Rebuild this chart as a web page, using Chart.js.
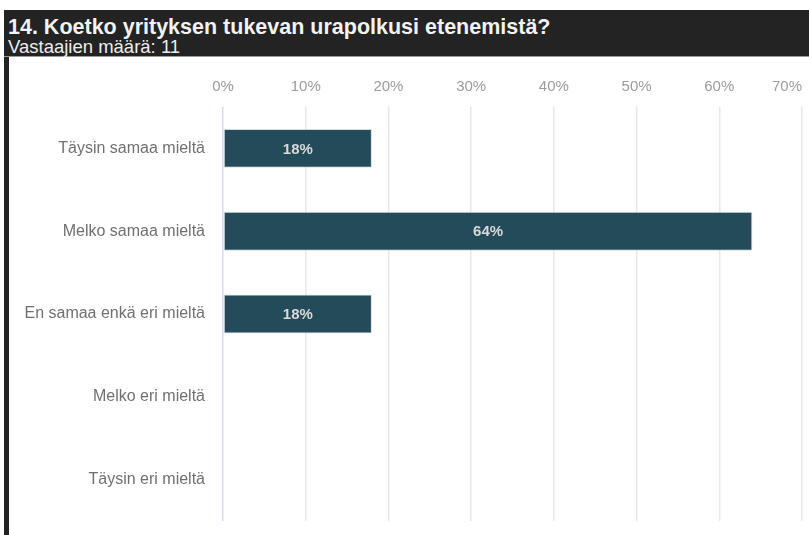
<!DOCTYPE html>
<html lang="fi">
<head>
    <meta charset="UTF-8">
    <title>14. Koetko yrityksen tukevan urapolkusi etenemistä?</title>
    <script src="https://cdn.jsdelivr.net/npm/chart.js"></script>
    <style>
        html, body { margin: 0; padding: 0; background: #FFFFFF; }
        body { width: 809px; height: 535px; position: relative; overflow: hidden; font-family: 'Liberation Sans', Arial, sans-serif; }
        .survey-header {
            position: absolute; left: 4px; top: 10px; width: 805px; height: 47px;
            background: #232323; border-bottom: 1px solid #9a9a9a; box-sizing: border-box;
        }
        .survey-title {
            position: absolute; left: 4px; top: 5px; color: #F2F2F2;
            font-weight: bold; font-size: 21.5px; line-height: 25px; white-space: nowrap;
        }
        .survey-sub {
            position: absolute; left: 4px; top: 27px; color: #EDEDED;
            font-size: 18.5px; line-height: 20px; white-space: nowrap;
        }
        .chart-frame {
            position: absolute; left: 4px; top: 57px; width: 805px; height: 478px;
            border-left: 5px solid #232323; box-sizing: border-box;
        }
        .chart-box { position: absolute; left: 0; top: 1px; width: 800px; height: 477px; }
    </style>
</head>
<body>
    <div class="survey-header">
        <div class="survey-title">14. Koetko yrityksen tukevan urapolkusi etenemistä?</div>
        <div class="survey-sub">Vastaajien määrä: 11</div>
    </div>
    <div class="chart-frame">
        <div class="chart-box"><canvas id="urapolkuChart"></canvas></div>
    </div>

    <script>
        const answerLabels = ["Täysin samaa mieltä", "Melko samaa mieltä", "En samaa enkä eri mieltä", "Melko eri mieltä", "Täysin eri mieltä"];
        const answerShares = [18, 64, 18, 0, 0];
        const axisMax = 70;
        const axisStep = 10;

        // prints the share in the middle of each bar
        const barValueLabels = {
            id: 'barValueLabels',
            afterDatasetsDraw(chart) {
                const ctx = chart.ctx;
                const meta = chart.getDatasetMeta(0);
                ctx.save();
                ctx.font = "bold 15px 'Liberation Sans', Arial, sans-serif";
                ctx.fillStyle = '#D9D9D9';
                ctx.textAlign = 'center';
                ctx.textBaseline = 'middle';
                meta.data.forEach(function(bar, i) {
                    const v = answerShares[i];
                    if (!v) return;
                    const p = bar.getCenterPoint();
                    ctx.fillText(Math.round(v) + '%', p.x, p.y + 1);
                });
                ctx.restore();
            }
        };

        // last percentage label sits inside the plot, flush with its grid line
        const lastTickInside = {
            id: 'lastTickInside',
            beforeDraw(chart) {
                const items = chart.scales.x.getLabelItems();
                const last = items[items.length - 1];
                if (last) last.options.textAlign = 'right';
            }
        };

        const ctxUra = document.getElementById('urapolkuChart').getContext('2d');
        new Chart(ctxUra, {
            type: 'bar',
            data: {
                labels: answerLabels,
                datasets: [{
                    data: answerShares,
                    backgroundColor: '#244B59',
                    borderColor: 'rgba(190, 205, 212, 0.7)',
                    borderWidth: 1,
                    borderSkipped: false,
                    categoryPercentage: 1.0,
                    barPercentage: 0.47
                }]
            },
            options: {
                indexAxis: 'y',
                responsive: true,
                maintainAspectRatio: false,
                animation: false,
                layout: { padding: { top: 0, right: 7, bottom: 14, left: 0 } },
                scales: {
                    x: {
                        position: 'top',
                        min: 0,
                        max: axisMax,
                        border: { display: false },
                        grid: {
                            drawTicks: false,
                            lineWidth: 1.5,
                            color: function(c) { return c.tick && c.tick.value === 0 ? '#D3DBF0' : '#E8E8E8'; }
                        },
                        ticks: {
                            stepSize: axisStep,
                            padding: 11,
                            color: '#9C9C9C',
                            font: { family: "'Liberation Sans', Arial, sans-serif", size: 15 },
                            callback: function(v) { return v + '%'; }
                        },
                        afterFit: function(scale) {
                            scale.height = 49;
                            scale.paddingLeft = 0;
                            scale.paddingRight = 0;
                        }
                    },
                    y: {
                        border: { display: false },
                        grid: { display: false, drawTicks: false },
                        ticks: {
                            padding: 18,
                            color: '#707070',
                            font: { family: "'Liberation Sans', Arial, sans-serif", size: 16 }
                        },
                        afterFit: function(scale) {
                            scale.width = 214;
                            scale.paddingTop = 0;
                            scale.paddingBottom = 0;
                        }
                    }
                },
                plugins: {
                    legend: { display: false },
                    tooltip: { enabled: false }
                }
            },
            plugins: [barValueLabels, lastTickInside]
        });
    </script>
</body>
</html>
